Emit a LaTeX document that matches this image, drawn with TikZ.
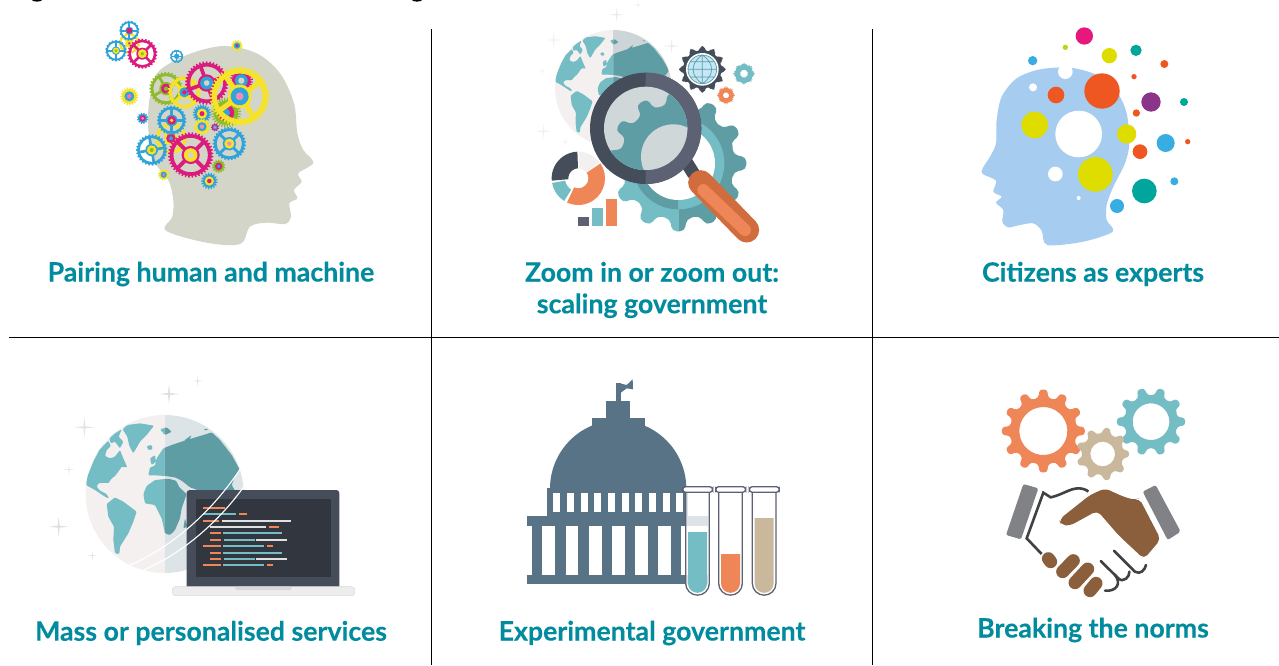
\documentclass[tikz,border=0pt]{standalone}
\usepackage{fontspec}
\setmainfont{Lato}[BoldFeatures={FakeBold=0.25}]
\definecolor{lab}{HTML}{008C9E}
\definecolor{hpink}{HTML}{DB1C7C}
\definecolor{hblue}{HTML}{2FA3DA}
\definecolor{hyel}{HTML}{F6E328}
\definecolor{hgreen}{HTML}{8DBB2B}
\definecolor{hgray}{HTML}{D2D5C8}
\definecolor{tlight}{HTML}{74BDC4}
\definecolor{tdark}{HTML}{5F9DA5}
\definecolor{sdark}{HTML}{454C5A}
\definecolor{sslate}{HTML}{5C6173}
\definecolor{scr}{HTML}{31363F}
\definecolor{orl}{HTML}{EE8658}
\definecolor{ord}{HTML}{D06C3E}
\definecolor{tanc}{HTML}{C9B89C}
\definecolor{bld}{HTML}{577385}
\definecolor{cblue}{HTML}{38ADE2}
\definecolor{cor}{HTML}{EE5722}
\definecolor{cyel}{HTML}{DFDC00}
\definecolor{cteal}{HTML}{00A59B}
\definecolor{cpink}{HTML}{E6187B}
\definecolor{cpur}{HTML}{8A3589}
\definecolor{chead}{HTML}{A6CDEF}
\definecolor{brownc}{HTML}{8B5E3C}
\definecolor{cuff}{HTML}{808285}
\definecolor{dline}{HTML}{414042}
\definecolor{gpale}{HTML}{F5F0F0}
\definecolor{gcool}{HTML}{DDE4E7}
\definecolor{gcoolb}{HTML}{CDD5D8}
\definecolor{lensbg}{HTML}{CFD7D9}
\tikzset{
 lab/.style={font=\bfseries\fontsize{26.7}{31.5}\selectfont,text=lab,align=center,inner sep=0pt},
 rule/.style={black,line width=0.8pt},
 codeline/.style={line width=2pt}
}
% x,y,rout,rroot,hole,n,colour,corner
\newcommand{\gearat}[8]{%
 \begin{scope}[shift={(#1,#2)}]
 \pgfmathsetmacro{\gs}{360/#6}
 \fill[#7,even odd rule,rounded corners=#8] (0:#4) foreach \gi in {1,...,#6} {
   -- ({(\gi-.78)*\gs}:#4) -- ({(\gi-.68)*\gs}:#3) -- ({(\gi-.32)*\gs}:#3) -- ({(\gi-.22)*\gs}:#4) -- ({\gi*\gs}:#4)} -- cycle
   (0,0) circle (#5);
 \end{scope}}
% [spoke angle] x,y,r,col,hub,centre
\newcommand{\wheel}[7][45]{%
 \pgfmathsetmacro{\wi}{.92*#4}\pgfmathsetmacro{\wh}{.76*#4}
 \pgfmathtruncatemacro{\wn}{max(12,#4/1.7)}
 \gearat{#2}{#3}{#4}{\wi}{\wh}{\wn}{#5}{0pt}
 \pgfmathsetmacro{\wl}{.17*#4/3}
 \begin{scope}[shift={(#2,#3)},rotate=#1]
  \draw[#5,line width=\wl pt] (0:.85*#4) -- (180:.85*#4) (90:.85*#4) -- (270:.85*#4);
  \fill[#5] (0,0) circle (.4*#4);
  \fill[#6] (0,0) circle (.3*#4);
  \fill[#7] (0,0) circle (.13*#4);
 \end{scope}}
\newcommand{\spiky}[6]{%
 \pgfmathsetmacro{\wi}{.8*#3}
 \pgfmathtruncatemacro{\wn}{max(9,#3/1.4)}
 \gearat{#1}{#2}{#3}{\wi}{0}{\wn}{#4}{0pt}
 \fill[#5] (#1,#2) circle (.55*#3);
 \fill[#6] (#1,#2) circle (.27*#3);}
\newcommand{\sparkle}[4]{%
 \fill[#4] (#1,#2-#3) -- (#1+.1*#3,#2-.1*#3) -- (#1+#3,#2) -- (#1+.1*#3,#2+.1*#3) -- (#1,#2+#3) -- (#1-.1*#3,#2+.1*#3) -- (#1-#3,#2) -- (#1-.1*#3,#2-.1*#3) -- cycle;}
\newcommand{\bub}[4]{\fill[#4] (#1,#2) circle (#3);}
\def\contpath{
 (138,345)--(142,320)--(160,275)--(178,240)--(205,212)--(213,228)--(200,240)--(195,258)--(210,265)--(225,260)--(240,240)--(250,265)--(262,292)--(245,290)--(235,305)--(225,318)--(215,325)--(205,340)--(195,338)--(175,340)--(170,350)--(180,362)--(200,372)--(207,385)--(198,382)--(165,360)--cycle
 (208,205)--(225,190)--(245,178)--(236,200)--(250,215)--(240,235)--(225,215)--(212,220)--cycle
 (248,178)--(262,165)--(300,160)--(342,167)--(320,195)--(300,215)--(280,250)--(268,228)--(262,200)--cycle
 (200,402)--(225,382)--(250,395)--(290,425)--(280,455)--(265,490)--(240,530)--(238,552)--(225,550)--(220,510)--(222,470)--(205,440)--cycle
 (320,228)--(335,225)--(338,238)--(325,240)--cycle
 (330,265)--(345,255)--(348,275)--(335,285)--cycle
 (325,316)--(330,292)--(345,287)--(350,265)--(370,235)--(395,225)--(440,210)--(490,195)--(515,187)--(540,210)--(575,255)--(600,300)--(585,320)--(575,345)--(590,370)--(500,370)--(450,352)--(425,332)--(405,322)--(375,318)--(345,316)--cycle
 (310,372)--(320,348)--(345,330)--(385,326)--(408,332)--(418,352)--(440,372)--(425,415)--(420,445)--(405,480)--(390,495)--(375,490)--(365,445)--(345,405)--(315,400)--cycle
 (435,445)--(442,470)--(430,475)--cycle
 (360,178)--(380,172)--(395,185)--(375,195)--cycle
 (432,212)--(455,195)--(445,215)--cycle
 (490,178)--(505,176)--(500,182)--cycle
}
\newcommand{\globe}[2]{%
 \begin{scope}[shift={(-374,-372)}]
 \begin{scope}\clip (374,372) circle (237);
  \fill[#1] (130,130) rectangle (374,620);
  \fill[#2] (374,130) rectangle (620,620);
  \begin{scope}\clip (130,130) rectangle (374,620); \fill[tlight,rounded corners=1pt] \contpath; \end{scope}
  \begin{scope}\clip (374,130) rectangle (620,620); \fill[tdark,rounded corners=1pt] \contpath; \end{scope}
 \end{scope}
 \end{scope}}
\begin{document}
\begin{tikzpicture}[x=1pt,y=-1pt]
\useasboundingbox (0,0) rectangle (1279,665);
\fill[white] (0,0) rectangle (1279,665);
% cropped title remnants
\fill[lab] (37,0) ellipse (5 and 1.6);
\fill[lab] (417,0) ellipse (5 and 1.6);
% rules
\coordinate (v1t) at (431.5,29); \coordinate (v1b) at (431.5,665);
\coordinate (v2t) at (872.5,29); \coordinate (v2b) at (872.5,665);
\coordinate (hl) at (9,337.5); \coordinate (hr) at (1279,337.5);
\draw[rule] (v1t) -- (v1b);
\draw[rule] (v2t) -- (v2b);
\draw[rule] (hl) -- (hr);

% ---------- Panel 1
\begin{scope}[shift={(90,0)},scale=1/3]
 \fill[hgray] plot[smooth cycle,tension=.55] coordinates {(228,692)(247,650)(250,600)(235,540)(190,480)(175,390)(175,330)(182,280)(205,215)(290,165)(400,138)(500,160)(570,220)(612,310)(622,400)(640,450)(670,488)(625,520)(635,545)(612,570)(622,595)(598,610)(603,650)(585,672)(530,668)(480,680)(450,732)(350,728)};
 \spiky{441}{137}{17}{hyel}{hblue}{hpink}
 \wheel{118}{130}{32}{hyel}{hyel}{hpink}{hyel}
 \wheel[0]{118}{92}{30}{hblue}{hpink}{hpink}
 \wheel[0]{78}{152}{32}{hblue}{hyel}{hgreen}
 \wheel{157}{161}{45}{hpink}{hyel}{hgreen}
 \wheel[0]{260}{169}{20}{hblue}{hblue}{hblue}
 \spiky{118}{289}{27}{hyel}{hblue}{hpink!60}
 \spiky{158}{355}{17}{hblue}{hpink}{hpink!50}
 \wheel[30]{228}{266}{50}{hgreen}{hpink}{hgreen}
 \wheel{283}{277}{50}{hyel}{hblue}{hpink}
 \wheel[20]{350}{249}{65}{hpink}{hblue}{hgray}
 \spiky{454}{242}{35}{hpink}{hblue}{hgray}
 \spiky{408}{338}{45}{hgreen}{hpink}{hblue}
 \wheel[35]{449}{289}{90}{hyel}{hblue}{hpink!50}
 \wheel{243}{415}{48}{hyel}{hpink}{hblue}
 \wheel[0]{245}{361}{44}{hblue}{hpink}{hyel}
 \spiky{336}{341}{28}{hblue}{hyel}{hpink}
 \spiky{336}{380}{25}{hyel}{hblue}{hpink!50}
 \spiky{375}{382}{12}{hpink}{hblue}{hpink!50}
 \wheel[10]{185}{450}{47}{hblue}{hyel}{hgreen}
 \wheel{418}{431}{50}{hblue}{hyel}{hpink!50}
 \wheel{302}{465}{68}{hpink}{hyel}{hgray}
 \spiky{386}{499}{20}{hgreen}{hpink}{hblue}
 \spiky{358}{543}{25}{hblue}{hyel}{hpink}
 \spiky{221}{524}{17}{hyel}{hblue}{hpink!60}
\end{scope}
\node[lab] (t1) at (211,274) {Pairing human and machine};

% ---------- Panel 2
\begin{scope}[shift={(530,0)},scale=1/3]
 \sparkle{260}{44}{22}{black!8}
 \sparkle{324}{15}{11}{black!8}
 \sparkle{71}{120}{22}{black!6}
 \sparkle{37}{213}{11}{black!6}
 \sparkle{425}{138}{22}{black!8}
 \sparkle{40}{394}{22}{black!6}
 \sparkle{106}{425}{11}{black!6}
 \begin{scope}[shift={(250,265)},scale=.738]\globe{gpale}{gcoolb}\end{scope}
 % big gear
 \begin{scope}\clip (0,250) rectangle (445,720);
  \begin{scope}[shift={(445,490)},rotate=15]\gearat{0}{0}{205}{168}{1}{12}{tlight}{5pt}\end{scope}
  \fill[tdark] (445,490) circle (138);
 \end{scope}
 \begin{scope}\clip (445,250) rectangle (720,720);
  \begin{scope}[shift={(445,490)},rotate=15]\gearat{0}{0}{205}{168}{1}{12}{tdark}{5pt}\end{scope}
  \fill[tlight] (445,490) circle (138);
 \end{scope}
 \fill[white] (445,490) circle (110);
 % donut
 \begin{scope}[shift={(145,535)}]
  \fill[sdark] (175:80) arc (175:268:80) -- (268:30) arc (268:175:30) -- cycle;
  \fill[gpale] (272:80) arc (272:322:80) -- (322:30) arc (322:272:30) -- cycle;
  \fill[orl] (326:80) arc (326:475:80) -- (475:30) arc (475:326:30) -- cycle;
  \fill[tlight] (122:80) arc (122:170:80) -- (170:40) arc (170:122:40) -- cycle;
 \end{scope}
 \fill[sslate] (145,652) rectangle (177,677);
 \fill[tlight] (187,625) rectangle (218,677);
 \fill[orl] (229,598) rectangle (260,677);
 % small gears
 \begin{scope}[shift={(517,208)},rotate=15]\gearat{0}{0}{70}{56}{1}{12}{sdark}{3pt}\end{scope}
 \fill[white] (517,208) circle (49);
 \fill[cblue!30!white] (517,208) circle (43);
 \draw[tdark,line width=.7pt] (517,208) circle (43) (474,208) -- (560,208) (480,185) -- (554,185) (480,231) -- (554,231) (517,165) -- (517,251) (517,165) .. controls (480,190) and (480,226) .. (517,251) (517,165) .. controls (554,190) and (554,226) .. (517,251);
 \begin{scope}[shift={(642,221)},rotate=22]\gearat{0}{0}{33}{25}{12}{8}{tlight}{2pt}\end{scope}
 \begin{scope}[shift={(588,286)},rotate=22]\gearat{0}{0}{27}{20}{9}{8}{orl}{2pt}\end{scope}
 % handle
 \draw[sdark,line width=13pt,line cap=round] (465,480) -- (490,520);
 \draw[ord,line width=25pt,line cap=round] (512,548) -- (650,690);
 \draw[orl,line width=12pt,line cap=round] (520,570) -- (645,690);
 % lens
 \fill[sdark] (347,385) circle (167);
 \begin{scope}\clip (347,0) rectangle (560,600); \fill[sslate] (347,385) circle (167); \end{scope}
 \begin{scope}\clip (347,385) circle (125);
  \fill[lensbg] (200,240) rectangle (500,530);
  \fill[tlight] (240,450) rectangle (480,520);
  \begin{scope}[shift={(430,470)},rotate=15]\gearat{0}{0}{190}{155}{1}{12}{tdark}{4pt}\end{scope}
  \fill[lensbg] (430,470) circle (97);
 \end{scope}
\end{scope}
\node[lab] (t2) at (652,290) {Zoom in or zoom out:\\scaling government};

% ---------- Panel 3
\begin{scope}[shift={(970,20)},scale=1/3]
 \fill[chead] plot[smooth cycle,tension=.5] coordinates {(232,675)(215,632)(190,610)(150,615)(115,622)(97,605)(100,570)(78,548)(95,530)(70,515)(78,482)(38,462)(38,445)(60,410)(78,370)(80,300)(95,230)(140,175)(210,148)(300,143)(380,165)(440,215)(470,280)(478,370)(465,430)(430,500)(410,555)(410,600)(428,635)(340,665)};
 \bub{343}{48}{26}{cpink}\bub{286}{82}{8}{hgreen!60!yellow}\bub{418}{107}{23}{cyel}\bub{498}{91}{17}{cteal}
 \bub{583}{132}{12}{cor}\bub{188}{122}{14}{cblue}\bub{286}{155}{22}{white}\bub{189}{202}{12}{white}
 \bub{258}{225}{25}{cor}\bub{396}{213}{53}{cor}\bub{492}{170}{8}{cor}\bub{543}{246}{29}{cpur}
 \bub{642}{246}{12}{cteal}\bub{499}{279}{11}{cor}\bub{194}{315}{40}{cyel}\bub{326}{342}{70}{white}
 \bub{470}{342}{29}{cyel}\bub{587}{369}{27}{cblue}\bub{653}{365}{8}{cor}\bub{510}{395}{22}{cor}
 \bub{256}{462}{22}{white}\bub{376}{463}{52}{cyel}\bub{523}{513}{37}{cteal}\bub{613}{484}{12}{cblue}
 \bub{441}{558}{21}{cblue}\bub{326}{534}{6}{white}
\end{scope}
\node[lab] (t3) at (1093,274) {Citizens as experts};

% ---------- Panel 4
\begin{scope}[shift={(40,370)},scale=1/3]
 \sparkle{387}{72}{30}{black!12}
 \sparkle{473}{33}{15}{black!12}
 \sparkle{133}{172}{30}{black!10}
 \sparkle{87}{299}{15}{black!10}
 \sparkle{56}{470}{30}{black!12}
 \sparkle{157}{557}{15}{black!10}
 \begin{scope}[shift={(374,372)}]\globe{gpale}{gcool}\end{scope}
 \fill[sdark,rounded corners=3pt] (440,360) rectangle (898,660);
 \fill[scr] (468,387) rectangle (873,621);
 \fill[black!7,rounded corners=3pt,draw=black!15,line width=.5pt] (397,650) rectangle (944,677);
 \fill[black!15,rounded corners=2pt] (585,650) rectangle (755,660);
 \foreach \xa/\xb/\yy/\cc in {489/555/413/orl,489/588/432/tlight,597/621/432/orl,489/537/453/orl,546/753/453/black!12,510/678/471/black!12,687/717/471/orl,510/543/489/orl,549/726/489/tlight,510/543/510/orl,552/645/510/tlight,648/741/510/black!12,489/543/528/orl,549/672/528/tlight,681/699/528/orl,510/543/549/orl,549/726/549/tlight,510/543/567/orl,552/645/567/tlight,648/741/567/black!12,489/543/585/orl,549/672/585/tlight,681/699/585/orl}{
  \draw[codeline,\cc] (\xa,\yy) -- (\xb,\yy);}
 \draw[white,line width=1.1pt] (270,585) .. controls (400,530) and (520,420) .. (602,295);
 \draw[white,line width=1.1pt] (310,600) .. controls (430,550) and (540,450) .. (610,352);
\end{scope}
\node[lab] (t4) at (211,633) {Mass or personalised services};

% ---------- Panel 5
\begin{scope}[shift={(520,370)},scale=1/3]
 \fill[bld] (288,38) rectangle (302,92);
 \fill[bld] (300,40) -- (320,45) -- (338,28) -- (339,58) -- (320,55) -- (300,70) -- cycle;
 \fill[bld] (259,92) rectangle (331,143);
 \fill[bld] (216,143) rectangle (374,168);
 \fill[bld] (90,356) arc (180:360:204.5 and 205) -- cycle;
 \fill[bld] (80,355) rectangle (505,440);
 \foreach \xx in {100,141,182,223,264,305,346,387,428,468}{\fill[white] (\xx,368) rectangle (\xx+21,426);}
 \fill[bld] (22,438) rectangle (565,468);
 \fill[bld] (37,468) rectangle (520,614);
 \foreach \xx/\xy in {67/106,137/175,206/245,276/314,345/383,414/453,484/522}{\fill[white] (\xx,468) rectangle (\xy,614);}
 \fill[bld] (22,614) rectangle (565,643);
 \foreach \xa/\top/\cc in {497/486/tlight,596/552/orl,697/444/tanc}{
  \fill[white,opacity=.8] (\xa,367) -- (\xa,640) arc (180:0:35.5) -- (\xa+71,367) -- cycle;
  \fill[\cc] (\xa+7,\top) -- (\xa+7,640) arc (180:0:28.5) -- (\xa+64,\top) -- cycle;
  \draw[sslate,line width=1.3pt] (\xa,367) -- (\xa,640) arc (180:0:35.5) -- (\xa+71,367);
  \draw[sslate,fill=white,line width=1.3pt,rounded corners=3pt] (\xa-9,350) rectangle (\xa+81,367);
 }
\end{scope}
\node[lab] (t5) at (652,633) {Experimental government};

% ---------- Panel 6
\begin{scope}[shift={(990,380)},scale=1/3]
 \begin{scope}[shift={(160,153)},rotate=15]\gearat{0}{0}{125}{100}{72}{12}{orl}{3pt}\end{scope}
 \begin{scope}[shift={(483,125)},rotate=18]\gearat{0}{0}{103}{80}{55}{10}{tlight}{3pt}\end{scope}
 \begin{scope}[shift={(338,222)},rotate=20]\gearat{0}{0}{80}{62}{37}{9}{tanc}{3pt}\end{scope}
 \fill[cuff,rounded corners=2pt] (100,312) -- (145,325) -- (93,478) -- (48,465) -- cycle;
 \fill[cuff,rounded corners=2pt] (458,335) -- (497,315) -- (572,455) -- (533,480) -- cycle;
 \fill[brownc,rounded corners=5pt] (208,418) -- (300,345) -- (345,325) -- (400,350) -- (435,360) -- (448,355) -- (512,478) -- (462,537) -- (385,465) -- (322,392) -- (240,437) -- (212,435) -- cycle;
 \draw[brownc,line width=13pt,line cap=round] (175,536) -- (182,545);
 \draw[brownc,line width=13pt,line cap=round] (218,575) -- (250,542);
 \draw[brownc,line width=13pt,line cap=round] (255,608) -- (293,567);
 \draw[brownc,line width=13pt,line cap=round] (300,632) -- (318,610);
 \draw[dline,line width=2.6pt] (155,522) -- (110,475) -- (160,338) -- (182,352) .. controls (215,345) and (240,325) .. (265,325) .. controls (280,325) and (290,330) .. (295,335);
 \draw[dline,line width=2.6pt,line cap=round] (372,512) -- (435,575) .. controls (450,585) and (465,570) .. (468,555);
 \draw[dline,line width=2.6pt,line cap=round] (332,543) -- (385,595) .. controls (400,610) and (420,590) .. (418,575);
 \draw[dline,line width=2.6pt,line cap=round] (375,585) .. controls (395,610) and (380,635) .. (345,632);
\end{scope}
\node[lab] (t6) at (1093,630) {Breaking the norms};
\end{tikzpicture}
\end{document}
